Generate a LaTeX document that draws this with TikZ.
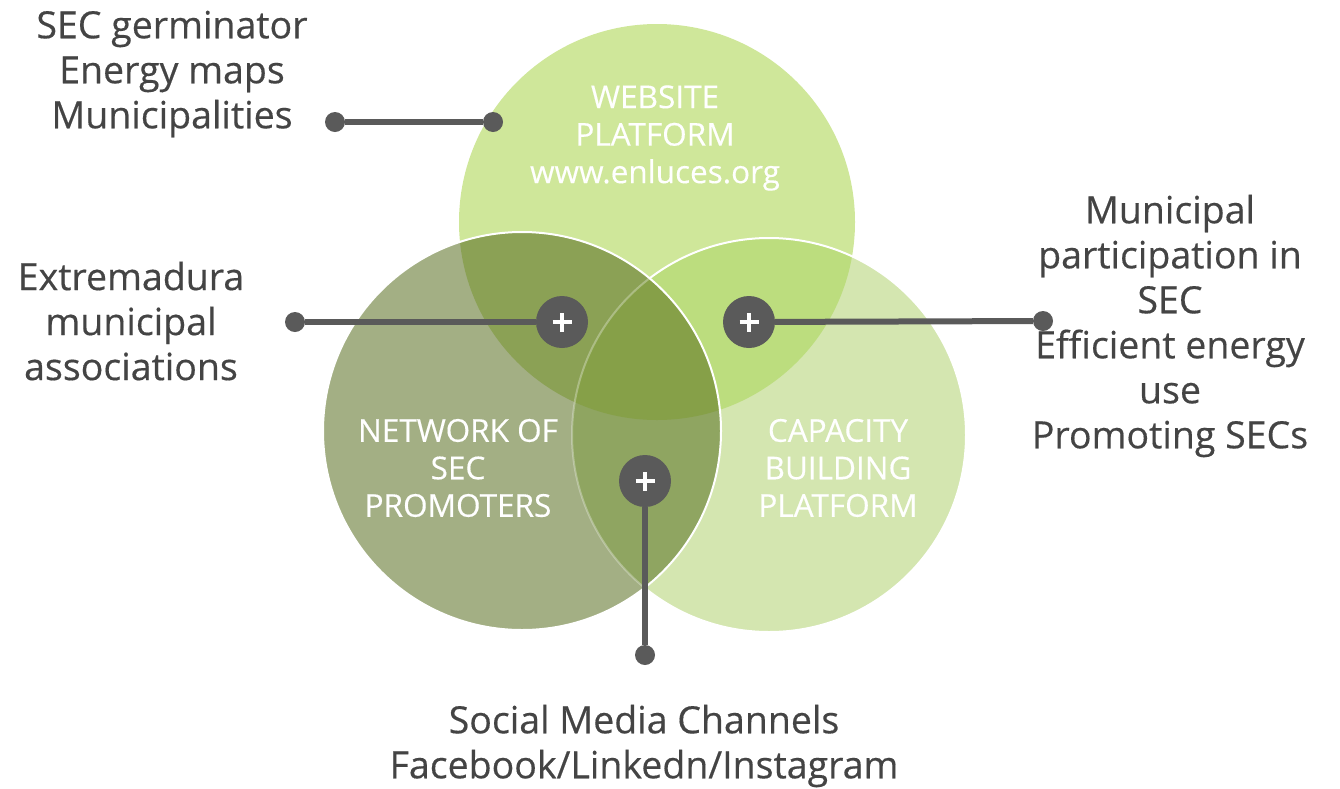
\documentclass[tikz,border=0pt]{standalone}
\usepackage{fontspec}
\setmainfont{Open Sans}
\newfontfamily\labelfont[FakeBold=0.4]{Open Sans}
\newfontfamily\inlabelfont[FakeBold=0.3]{Open Sans}
\definecolor{cT}{HTML}{CFE79A}
\definecolor{cL}{HTML}{A3AF84}
\definecolor{cR}{HTML}{D4E6B0}
\definecolor{cTL}{HTML}{8BA155}
\definecolor{cTR}{HTML}{BCDD7E}
\definecolor{cLR}{HTML}{8FA561}
\definecolor{cTLR}{HTML}{86A048}
\definecolor{mark}{HTML}{5A5A5A}
\definecolor{txt}{HTML}{444444}
\tikzset{
  plusmark/.style={circle, fill=mark, minimum size=52pt, inner sep=0pt,
    path picture={\draw[white, line width=3.6pt]
      ([xshift=-9.5pt]path picture bounding box.center) -- ([xshift=9.5pt]path picture bounding box.center)
      ([yshift=-9.5pt]path picture bounding box.center) -- ([yshift=9.5pt]path picture bounding box.center);}},
  enddot/.style={circle, fill=mark, minimum size=20pt, inner sep=0pt},
  conn/.style={draw=mark, line width=6pt},
  label/.style={align=center, text=txt, font=\labelfont\fontsize{37.5}{45}\selectfont, inner sep=0pt},
  inlabel/.style={align=center, text=white, font=\inlabelfont\fontsize{31.5}{37.5}\selectfont, inner sep=0pt}
}
\begin{document}
\begin{tikzpicture}[x=1pt,y=-1pt]
\useasboundingbox (0,0) rectangle (1340,788);
% circles
\coordinate (cT) at (657,222);
\coordinate (cL) at (522,431);
\coordinate (cR) at (769,435);
\fill[cT] (cT) circle[radius=198pt];
\fill[cR] (cR) circle[radius=197pt];
\begin{scope}
  \clip (cT) circle[radius=198pt];
  \fill[cTR] (cR) circle[radius=197pt];
\end{scope}
\draw[white, line width=2pt] (cR) circle[radius=197pt];
\fill[cL] (cL) circle[radius=199pt];
\begin{scope}
  \clip (cL) circle[radius=199pt];
  \fill[cTL] (cT) circle[radius=198pt];
  \fill[cLR] (cR) circle[radius=197pt];
  \clip (cT) circle[radius=198pt];
  \fill[cTLR] (cR) circle[radius=197pt];
\end{scope}
\begin{scope}
  \clip (cL) circle[radius=199pt];
  \draw[white, opacity=0.3, line width=2pt] (cR) circle[radius=197pt];
\end{scope}
\draw[white, line width=2pt] (cL) circle[radius=199pt];
% circle labels
\node[inlabel] (tWeb) at (655,138) {WEBSITE\\PLATFORM\\www.enluces.org};
\node[inlabel] (tNet) at (458,468) {NETWORK OF\\SEC\\PROMOTERS};
\node[inlabel] (tCap) at (838,468) {CAPACITY\\BUILDING\\PLATFORM};
% markers
\node[plusmark] (p1) at (562,322) {};
\node[plusmark] (p2) at (749,322) {};
\node[plusmark] (p3) at (645,481) {};
\node[enddot] (d1a) at (335,122) {};
\node[enddot] (d1b) at (493,122) {};
\node[enddot] (d2) at (295,322) {};
\node[enddot] (d3) at (1043,321) {};
\node[enddot] (d4) at (645,655) {};
\draw[conn] (d1a) -- (d1b);
\draw[conn] (d2) -- (p1);
\draw[conn] (p2) -- (d3);
\draw[conn] (p3) -- (d4);
% outer labels
\node[label] (l1) at (172,74) {SEC germinator\\Energy maps\\Municipalities};
\node[label] (l2) at (131,321) {Extremadura\\municipal\\associations};
\node[label] (l3) at (1170,326) {Municipal\\participation in\\SEC\\Efficient energy\\use\\Promoting SECs};
\node[label] (l4) at (644,746) {Social Media Channels\\Facebook/Linkedn/Instagram};
\end{tikzpicture}
\end{document}
